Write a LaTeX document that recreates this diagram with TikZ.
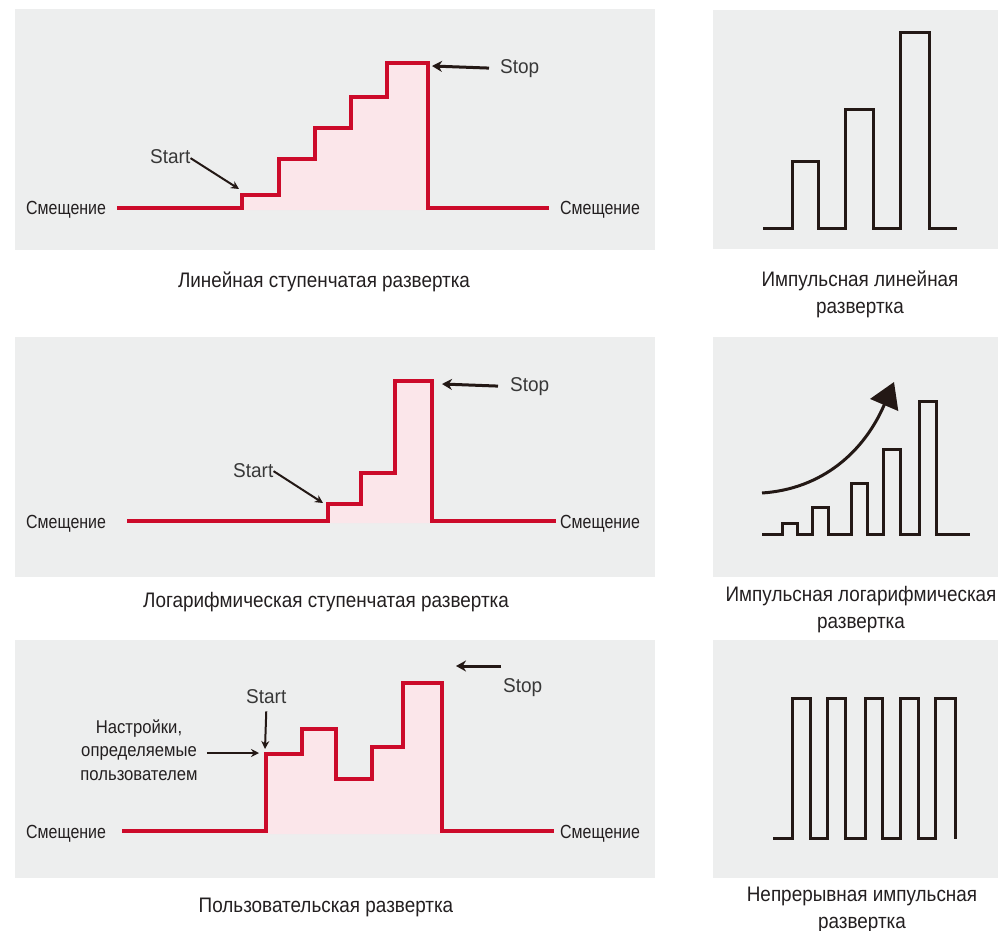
\documentclass[tikz,border=0pt]{standalone}
\usepackage{fontspec}
\setmainfont{Liberation Sans}[FakeStretch=0.84]
\newfontfamily\capfont{Liberation Sans}[FakeStretch=0.9]
\newfontfamily\tagfont{Liberation Sans}[FakeStretch=0.95]
\usetikzlibrary{arrows.meta}
\definecolor{panelgray}{HTML}{EDEEEE}
\definecolor{sweepred}{HTML}{CC0A2A}
\definecolor{sweeppink}{HTML}{FBE6EA}
\definecolor{inkdark}{HTML}{231815}
\definecolor{textdark}{HTML}{231F20}
\tikzset{
  panel/.style={fill=panelgray},
  redsig/.style={draw=sweepred, line width=3.6pt, line join=miter},
  area/.style={fill=sweeppink},
  blksig/.style={draw=inkdark, line width=3pt, line join=miter},
  lbl/.style={font=\fontsize{19}{20}\selectfont, text=textdark, inner sep=0pt, anchor=base west},
  captxt/.style={font=\capfont\fontsize{21}{27}\selectfont, text=textdark, inner sep=0pt, anchor=base, align=center},
  usrtxt/.style={font=\capfont\fontsize{18.5}{23.5}\selectfont, text=textdark, inner sep=0pt, align=center},
  tag/.style={font=\tagfont\fontsize{20}{22}\selectfont, text=black!78, inner sep=0pt, anchor=base west},
  ptr/.style={draw=inkdark, line width=3pt, -{Stealth[length=10pt,width=11pt]}},
  thinptr/.style={draw=inkdark, line width=2pt, -{Stealth[length=8pt,width=8pt]}},
}
\begin{document}
\begin{tikzpicture}[x=1pt,y=-1pt]
\useasboundingbox (0,0) rectangle (998,931);

% ---------- background panels ----------
\fill[panel] (15,9) rectangle (655,250);
\fill[panel] (15,337) rectangle (655,577);
\fill[panel] (15,640) rectangle (655,878);
\fill[panel] (713,10) rectangle (998,249);
\fill[panel] (713,337) rectangle (998,577);
\fill[panel] (713,640) rectangle (998,878);

% ---------- linear staircase sweep ----------
\fill[area] (242,210) -- (242,195) -- (279,195) -- (279,159) -- (315,159) -- (315,128)
  -- (351,128) -- (351,97) -- (387,97) -- (387,63) -- (428,63) -- (428,210) -- cycle;
\draw[redsig] (117,208) -- (242,208) -- (242,195) -- (279,195) -- (279,159) -- (315,159)
  -- (315,128) -- (351,128) -- (351,97) -- (387,97) -- (387,63) -- (428,63) -- (428,208) -- (549,208);
\node[lbl] (biasL1) at (26,214) {Смещение};
\node[lbl] (biasR1) at (560,214) {Смещение};
\node[tag] (start1) at (150,163) {Start};
\node[tag] (stop1) at (500,74) {Stop};
\coordinate (start1tip) at (239,189);
\coordinate (stop1tip) at (432,66);
\draw[thinptr] ([yshift=-2pt]start1.east) -- (start1tip);
\draw[ptr] ([xshift=-11pt,yshift=1pt]stop1.west) -- (stop1tip);
\node[captxt] (cap1) at (324,287) {Линейная ступенчатая развертка};

% ---------- logarithmic staircase sweep ----------
\fill[area] (328,523) -- (328,504) -- (361,504) -- (361,473) -- (395,473) -- (395,381)
  -- (432,381) -- (432,523) -- cycle;
\draw[redsig] (127,521) -- (328,521) -- (328,504) -- (361,504) -- (361,473) -- (395,473)
  -- (395,381) -- (432,381) -- (432,521) -- (556,521);
\node[lbl] (biasL2) at (26,528) {Смещение};
\node[lbl] (biasR2) at (560,528) {Смещение};
\node[tag] (start2) at (233,477) {Start};
\node[tag] (stop2) at (510,391) {Stop};
\coordinate (start2tip) at (323,503);
\coordinate (stop2tip) at (442,384);
\draw[thinptr] ([yshift=-1pt]start2.east) -- (start2tip);
\draw[ptr] ([xshift=-12pt,yshift=0pt]stop2.west) -- (stop2tip);
\node[captxt] (cap2) at (326,607) {Логарифмическая ступенчатая развертка};

% ---------- user-defined sweep ----------
\fill[area] (266,834) -- (266,754) -- (302,754) -- (302,729) -- (336,729) -- (336,779)
  -- (372,779) -- (372,747) -- (403,747) -- (403,683) -- (442,683) -- (442,834) -- cycle;
\draw[redsig] (122,831) -- (266,831) -- (266,754) -- (302,754) -- (302,729) -- (336,729)
  -- (336,779) -- (372,779) -- (372,747) -- (403,747) -- (403,683) -- (442,683) -- (442,831) -- (554,831);
\node[lbl] (biasL3) at (26,838) {Смещение};
\node[lbl] (biasR3) at (560,838) {Смещение};
\node[tag] (start3) at (246,703) {Start};
\node[tag] (stop3) at (503,692) {Stop};
\node[usrtxt] (usr3) at (139,750) {Настройки,\\определяемые\\пользователем};
\coordinate (start3tip) at (265,749);
\coordinate (usr3tip) at (259,753);
\coordinate (stop3tail) at (501,666);
\coordinate (stop3tip) at (456,666);
\draw[thinptr] ([yshift=-8pt]start3.south) -- (start3tip);
\draw[thinptr] ([xshift=9pt]usr3.east |- usr3tip) -- (usr3tip);
\draw[ptr] (stop3tail) -- (stop3tip);
\node[captxt] (cap3) at (326,912) {Пользовательская развертка};

% ---------- pulsed linear sweep ----------
\draw[blksig] (763,228) -- (792,228) -- (792,161) -- (818,161) -- (818,228) -- (845,228)
  -- (845,110) -- (873,110) -- (873,228) -- (900,228) -- (900,33) -- (929,33) -- (929,228) -- (957,228);
\node[captxt] (capR1) at (860,313) {Импульсная линейная\\развертка};

% ---------- pulsed logarithmic sweep ----------
\draw[blksig] (762,534) -- (782,534) -- (782,523) -- (797,523) -- (797,534) -- (812,534)
  -- (812,507) -- (828,507) -- (828,534) -- (851,534) -- (851,483) -- (867,483) -- (867,534)
  -- (883,534) -- (883,449) -- (900,449) -- (900,534) -- (919,534) -- (919,401) -- (936,401)
  -- (936,534) -- (970,534);
\coordinate (growA) at (762,493);
\coordinate (growB) at (894,382);
\draw[draw=inkdark, line width=3pt, -{Triangle[length=25pt,width=30pt]}]
  (growA) .. controls (822,489) and (864,452) .. (growB);
\node[captxt] (capR2) at (861,628) {Импульсная логарифмическая\\развертка};

% ---------- continuous pulsed sweep ----------
\draw[blksig] (773,838) -- (792,838) -- (792,698) -- (810,698) -- (810,838) -- (827,838)
  -- (827,698) -- (845,698) -- (845,838) -- (865,838) -- (865,698) -- (882,698) -- (882,838)
  -- (900,838) -- (900,698) -- (918,698) -- (918,838) -- (935,838) -- (935,698) -- (955,698) -- (955,839);
\node[captxt] (capR3) at (862,928) {Непрерывная импульсная\\развертка};
\end{tikzpicture}
\end{document}
